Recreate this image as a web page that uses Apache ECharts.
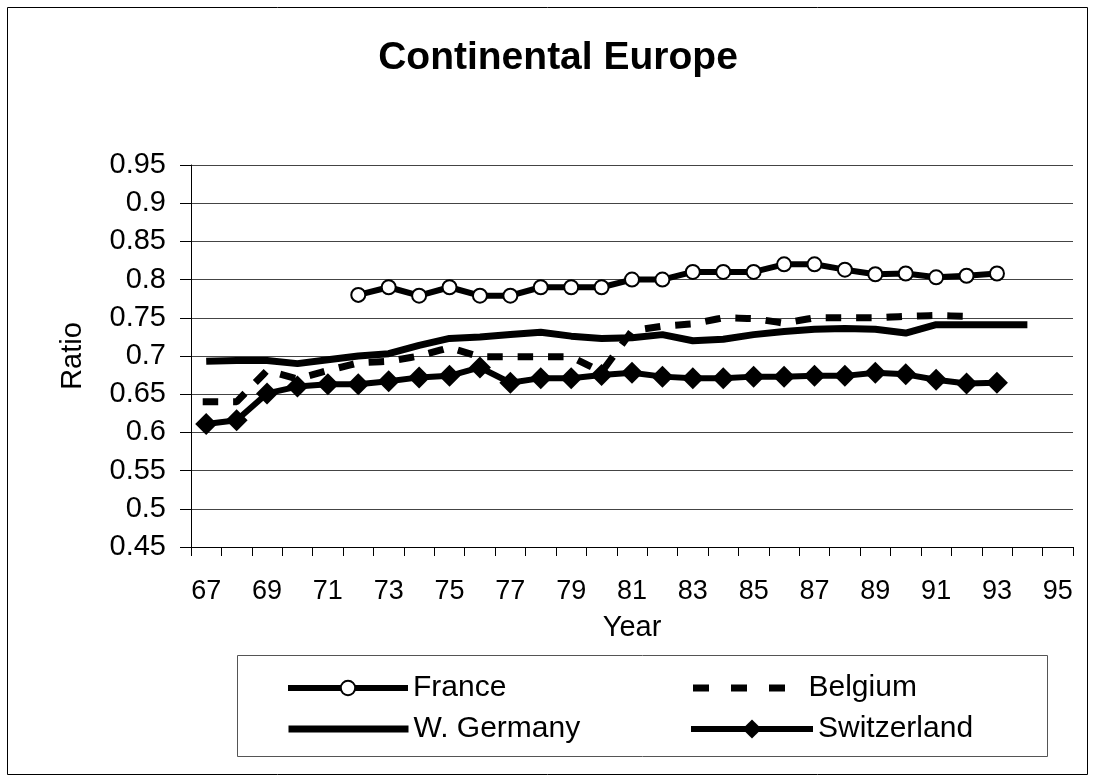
<!DOCTYPE html>
<html>
<head>
<meta charset="utf-8">
<script src="https://cdn.jsdelivr.net/npm/echarts@6/dist/echarts.min.js"></script>
<style>
  html, body { margin: 0; padding: 0; background: #fff; }
  #chart { width: 1095px; height: 782px; }
</style>
</head>
<body>
<div id="chart"></div>
<script>
// years on the x axis (two-digit)
var years = ['67','68','69','70','71','72','73','74','75','76','77','78','79','80',
             '81','82','83','84','85','86','87','88','89','90','91','92','93','94','95'];

// one value per year, null where the series has no point
var france = [null, null, null, null, null,
  0.780, 0.790, 0.779, 0.790, 0.779, 0.779, 0.790, 0.790, 0.790,
  0.800, 0.800, 0.810, 0.810, 0.810, 0.820, 0.820, 0.813, 0.807, 0.808,
  0.803, 0.805, 0.808, null, null];
var belgium = [0.640, 0.640, 0.681, 0.670, 0.681, 0.691, 0.693, 0.700, 0.711, 0.699,
  0.699, 0.699, 0.699, 0.679, 0.733, 0.739, 0.742, 0.750, 0.749, 0.743,
  0.750, 0.750, 0.750, 0.752, 0.753, 0.752, null, null, null];
var germany = [0.693, 0.694, 0.694, 0.690, 0.695, 0.700, 0.703, 0.714, 0.723, 0.725,
  0.728, 0.731, 0.726, 0.723, 0.724, 0.728, 0.720, 0.722, 0.728, 0.732,
  0.735, 0.736, 0.735, 0.730, 0.741, 0.741, 0.741, 0.741, null];
var switzerland = [0.611, 0.616, 0.651, 0.660, 0.663, 0.663, 0.667, 0.672, 0.674, 0.685,
  0.665, 0.671, 0.671, 0.675, 0.678, 0.673, 0.671, 0.671, 0.673, 0.673,
  0.674, 0.674, 0.678, 0.676, 0.669, 0.664, 0.665, null, null];

var yMin = 0.45, yMax = 0.95, yStep = 0.05;

var FONT = '"Liberation Sans", Arial, sans-serif';

var chart = echarts.init(document.getElementById('chart'));

function oneLegend(name, left, top, width, extra) {
  var lg = {
    data: [name],
    left: left,
    top: top,
    orient: 'horizontal',
    padding: 0,
    itemWidth: width,
    itemHeight: 18,
    selectedMode: false,
    textStyle: { fontFamily: FONT, fontSize: 30, color: '#000', lineHeight: 30 },
    lineStyle: { width: 'inherit', type: 'inherit', cap: 'inherit' }
  };
  return Object.assign(lg, extra || {});
}

chart.setOption({
  backgroundColor: '#fff',
  animation: false,
  title: {
    text: 'Continental Europe',
    left: 553,
    textAlign: 'center',
    top: 34,
    textStyle: { fontFamily: FONT, fontSize: 39, fontWeight: 'bold', color: '#000' }
  },
  graphic: [
    // outer frame
    { type: 'rect', shape: { x: 7.5, y: 7.5, width: 1080, height: 767 },
      style: { fill: null, stroke: '#000', lineWidth: 1 }, silent: true },
    // legend box
    { type: 'rect', shape: { x: 237.5, y: 655.5, width: 810, height: 101 },
      style: { fill: null, stroke: '#555', lineWidth: 1 }, silent: true }
  ],
  legend: [
    oneLegend('France', 285, 673, 120),
    oneLegend('W. Germany', 285, 714, 120, { data: [{ name: 'W. Germany', itemStyle: { opacity: 0 } }] }),
    oneLegend('Belgium', 693, 673, 107, {
      data: [{ name: 'Belgium', itemStyle: { opacity: 0 } }],
      lineStyle: { width: 7, type: [9, 29], cap: 'square', color: '#000' }
    }),
    oneLegend('Switzerland', 688, 714, 122, { itemHeight: 24 })
  ],
  grid: { left: 191, right: 22, top: 165, bottom: 235, containLabel: false },
  xAxis: {
    type: 'category',
    data: years,
    boundaryGap: true,
    name: 'Year',
    nameLocation: 'middle',
    nameGap: 66,
    nameTextStyle: { fontFamily: FONT, fontSize: 29, color: '#000' },
    axisLine: { onZero: false, lineStyle: { color: '#000', width: 1 } },
    axisTick: { show: true, interval: 0, length: 9, lineStyle: { color: '#000' } },
    axisLabel: { interval: 1, margin: 31, fontFamily: FONT, fontSize: 27, color: '#000' },
    splitLine: { show: false }
  },
  yAxis: {
    type: 'value',
    min: yMin,
    max: yMax,
    interval: yStep,
    name: 'Ratio',
    nameLocation: 'middle',
    nameGap: 104,
    nameRotate: 90,
    nameTextStyle: { fontFamily: FONT, fontSize: 29, color: '#000' },
    axisLine: { show: true, lineStyle: { color: '#000', width: 1 } },
    axisTick: { show: true, length: 11, lineStyle: { color: '#000' } },
    axisLabel: { margin: 25, fontFamily: FONT, fontSize: 29, color: '#000' },
    splitLine: { show: true, lineStyle: { color: '#444', width: 1 } }
  },
  series: [
    {
      name: 'France', type: 'line', data: france,
      symbol: 'emptyCircle', symbolSize: 14, showAllSymbol: true,
      lineStyle: { color: '#000', width: 6 },
      itemStyle: { color: '#000', borderColor: '#000', borderWidth: 3 },
      z: 4
    },
    {
      name: 'Belgium', type: 'line', data: belgium,
      symbol: 'none',
      lineStyle: { color: '#000', width: 7, type: [8.5, 21.9], cap: 'square' },
      itemStyle: { color: '#000' },
      z: 2
    },
    {
      name: 'W. Germany', type: 'line', data: germany,
      symbol: 'none',
      lineStyle: { color: '#000', width: 7 },
      itemStyle: { color: '#000' },
      z: 3
    },
    {
      name: 'Switzerland', type: 'line', data: switzerland,
      symbol: 'diamond', symbolSize: 22, showAllSymbol: true,
      lineStyle: { color: '#000', width: 6 },
      itemStyle: { color: '#000' },
      z: 5
    }
  ]
});
</script>
</body>
</html>
